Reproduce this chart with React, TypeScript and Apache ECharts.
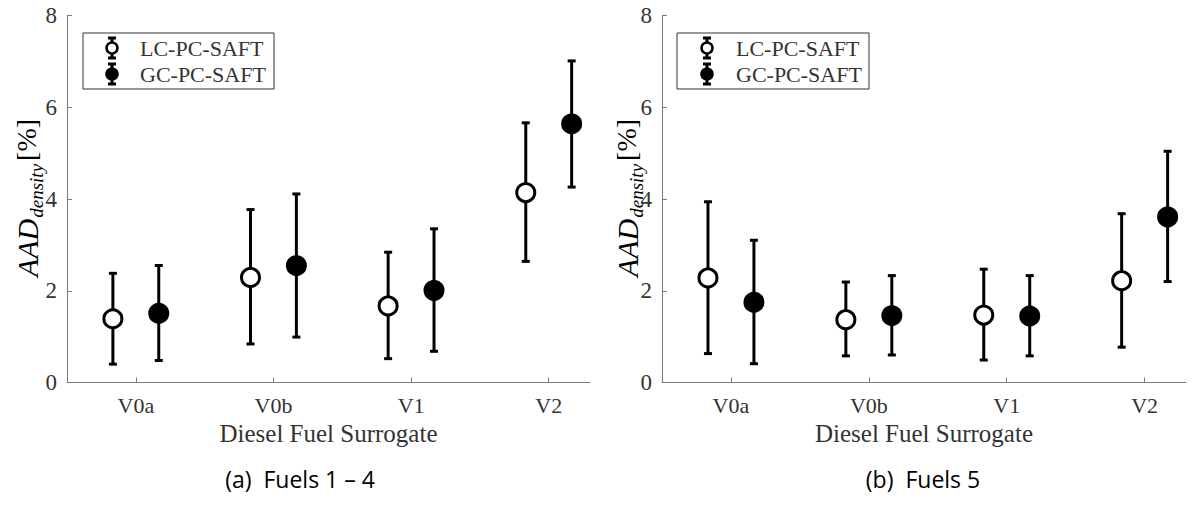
import React, { useEffect, useRef } from "react";
import * as echarts from "echarts";

const categories = ["V0a", "V0b", "V1", "V2"];
const seriesNames = ["LC-PC-SAFT", "GC-PC-SAFT"];
const yTicks = [0, 2, 4, 6, 8];
const captions = ["(a)  Fuels 1 – 4", "(b)  Fuels 5"];
const xTitle = "Diesel Fuel Surrogate";

// Panel (a) Fuels 1 – 4
const aLcMean = [1.39, 2.29, 1.67, 4.14];
const aLcLow = [0.4, 0.84, 0.52, 2.64];
const aLcHigh = [2.38, 3.77, 2.84, 5.66];
const aGcMean = [1.51, 2.55, 2.01, 5.64];
const aGcLow = [0.48, 0.99, 0.68, 4.26];
const aGcHigh = [2.55, 4.11, 3.35, 7.01];

// Panel (b) Fuels 5
const bLcMean = [2.28, 1.37, 1.47, 2.22];
const bLcLow = [0.63, 0.58, 0.49, 0.77];
const bLcHigh = [3.94, 2.19, 2.47, 3.68];
const bGcMean = [1.75, 1.46, 1.45, 3.61];
const bGcLow = [0.41, 0.6, 0.58, 2.2];
const bGcHigh = [3.1, 2.33, 2.33, 5.04];

const SERIF = "'Liberation Serif', 'DejaVu Serif', serif";
const SANS = "'Open Sans', 'Noto Sans', sans-serif";
const AXIS_COLOR = "#7a7a7a";
const TEXT_COLOR = "#333333";

const panels = [
  {
    grid: { left: 67, top: 15.5, width: 523, height: 367 },
    lc: { mean: aLcMean, low: aLcLow, high: aLcHigh },
    gc: { mean: aGcMean, low: aGcLow, high: aGcHigh },
    caption: captions[0],
    captionX: 300,
    titleX: 27,
    legend: { x: 83, y: 33, w: 191, h: 56, mx: 112, tx: 140 },
  },
  {
    grid: { left: 662, top: 15.5, width: 524, height: 367 },
    lc: { mean: bLcMean, low: bLcLow, high: bLcHigh },
    gc: { mean: bGcMean, low: bGcLow, high: bGcHigh },
    caption: captions[1],
    captionX: 923,
    titleX: 627,
    legend: { x: 677, y: 33, w: 192, h: 56, mx: 707, tx: 736 },
  },
];

const OFFSET = 1 / 6;
const tickValues = categories.map((_, i) => i + 1);

function errorBarRender(params: any, api: any) {
  const x = api.value(0);
  const lo = api.coord([x, api.value(1)]);
  const hi = api.coord([x, api.value(2)]);
  const hw = 4;
  const st = { stroke: "#000", lineWidth: 3 };
  return {
    type: "group",
    children: [
      { type: "line", shape: { x1: lo[0], y1: lo[1], x2: hi[0], y2: hi[1] }, style: st },
      { type: "line", shape: { x1: lo[0] - hw, y1: lo[1], x2: lo[0] + hw, y2: lo[1] }, style: st },
      { type: "line", shape: { x1: hi[0] - hw, y1: hi[1], x2: hi[0] + hw, y2: hi[1] }, style: st },
    ],
  };
}

function buildOption() {
  const grid: any[] = [];
  const xAxis: any[] = [];
  const yAxis: any[] = [];
  const series: any[] = [];
  const graphic: any[] = [];

  panels.forEach((p, pi) => {
    grid.push({ ...p.grid, containLabel: false });
    xAxis.push({
      type: "value",
      gridIndex: pi,
      min: 0.5,
      max: 4.3,
      axisLine: { show: true, onZero: false, lineStyle: { color: AXIS_COLOR, width: 1 } },
      axisTick: { show: true, inside: true, length: 5, customValues: tickValues, lineStyle: { color: AXIS_COLOR } },
      axisLabel: {
        customValues: tickValues,
        formatter: (v: number) => categories[Math.round(v) - 1] ?? "",
        fontFamily: SERIF,
        fontSize: 22,
        color: TEXT_COLOR,
        margin: 12,
      },
      splitLine: { show: false },
      name: xTitle,
      nameLocation: "middle",
      nameGap: 38,
      nameTextStyle: { fontFamily: SERIF, fontSize: 25, color: TEXT_COLOR },
    });
    yAxis.push({
      type: "value",
      gridIndex: pi,
      min: yTicks[0],
      max: yTicks[yTicks.length - 1],
      interval: 2,
      axisLine: { show: true, lineStyle: { color: AXIS_COLOR, width: 1 } },
      axisTick: { show: true, inside: true, length: 5, lineStyle: { color: AXIS_COLOR } },
      axisLabel: { fontFamily: SERIF, fontSize: 23, color: TEXT_COLOR, margin: 10 },
      splitLine: { show: false },
    });

    const groups = [
      { name: seriesNames[0], d: p.lc, dx: -OFFSET, fill: "#ffffff" },
      { name: seriesNames[1], d: p.gc, dx: OFFSET, fill: "#000000" },
    ];
    groups.forEach((g) => {
      const xs = categories.map((_, i) => i + 1 + g.dx);
      series.push({
        type: "custom",
        name: g.name + " error",
        xAxisIndex: pi,
        yAxisIndex: pi,
        renderItem: errorBarRender,
        encode: { x: 0, y: [1, 2] },
        data: xs.map((x, i) => [x, g.d.low[i], g.d.high[i]]),
        z: 2,
        silent: true,
      });
      series.push({
        type: "scatter",
        name: g.name,
        xAxisIndex: pi,
        yAxisIndex: pi,
        symbol: "circle",
        symbolSize: 18,
        itemStyle: { color: g.fill, borderColor: "#000", borderWidth: 3, opacity: 1 },
        data: xs.map((x, i) => [x, g.d.mean[i]]),
        z: 3,
      });
    });

    // y-axis title
    graphic.push({
      type: "text",
      x: p.titleX,
      y: 198,
      rotation: Math.PI / 2,
      style: {
        text: "{i|AAD}{s|density}{n|[%]}",
        align: "center",
        verticalAlign: "middle",
        rich: {
          i: { fontFamily: SERIF, fontStyle: "italic", fontSize: 30, lineHeight: 30, color: TEXT_COLOR, verticalAlign: "top", padding: [0, 1, 0, 0] },
          s: { fontFamily: SERIF, fontStyle: "italic", fontSize: 19, lineHeight: 19, color: TEXT_COLOR, verticalAlign: "top", padding: [15, 3, 0, 0] },
          n: { fontFamily: SERIF, fontSize: 28, lineHeight: 30, color: TEXT_COLOR, verticalAlign: "top" },
        },
      },
    });

    // legend
    const L = p.legend;
    const legendChildren: any[] = [
      { type: "rect", shape: { x: L.x, y: L.y, width: L.w, height: L.h }, style: { fill: "#fff", stroke: "#333", lineWidth: 1 } },
    ];
    const rows = [
      { y: L.y + 15, fill: "#fff", text: seriesNames[0] },
      { y: L.y + 41, fill: "#000", text: seriesNames[1] },
    ];
    rows.forEach((r) => {
      const st = { stroke: "#000", lineWidth: 3 };
      legendChildren.push(
        { type: "line", shape: { x1: L.mx, y1: r.y - 10, x2: L.mx, y2: r.y + 10 }, style: st },
        { type: "line", shape: { x1: L.mx - 4, y1: r.y - 10, x2: L.mx + 4, y2: r.y - 10 }, style: st },
        { type: "line", shape: { x1: L.mx - 4, y1: r.y + 10, x2: L.mx + 4, y2: r.y + 10 }, style: st },
        { type: "circle", shape: { cx: L.mx, cy: r.y, r: 5.5 }, style: { fill: r.fill, stroke: "#000", lineWidth: 2.5 } },
        { type: "text", x: L.tx, y: r.y, style: { text: r.text, fontFamily: SERIF, fontSize: 22, fill: TEXT_COLOR, align: "left", verticalAlign: "middle" } }
      );
    });
    graphic.push({ type: "group", children: legendChildren, z: 10 });

    // caption
    graphic.push({
      type: "text",
      x: p.captionX,
      y: 479,
      style: { text: p.caption, fontFamily: SANS, fontSize: 23, fill: "#000", align: "center", verticalAlign: "middle" },
    });
  });

  return {
    animation: false,
    backgroundColor: "#ffffff",
    grid,
    xAxis,
    yAxis,
    series,
    graphic,
  };
}

export default function App() {
  const ref = useRef<HTMLDivElement>(null);
  useEffect(() => {
    if (!ref.current) return;
    const chart = echarts.init(ref.current, undefined, { renderer: "svg" });
    chart.setOption(buildOption() as any);
    return () => chart.dispose();
  }, []);
  return (
    <div
      ref={ref}
      style={{ position: "fixed", left: 0, top: 0, width: 1192, height: 508, background: "#fff" }}
    />
  );
}
